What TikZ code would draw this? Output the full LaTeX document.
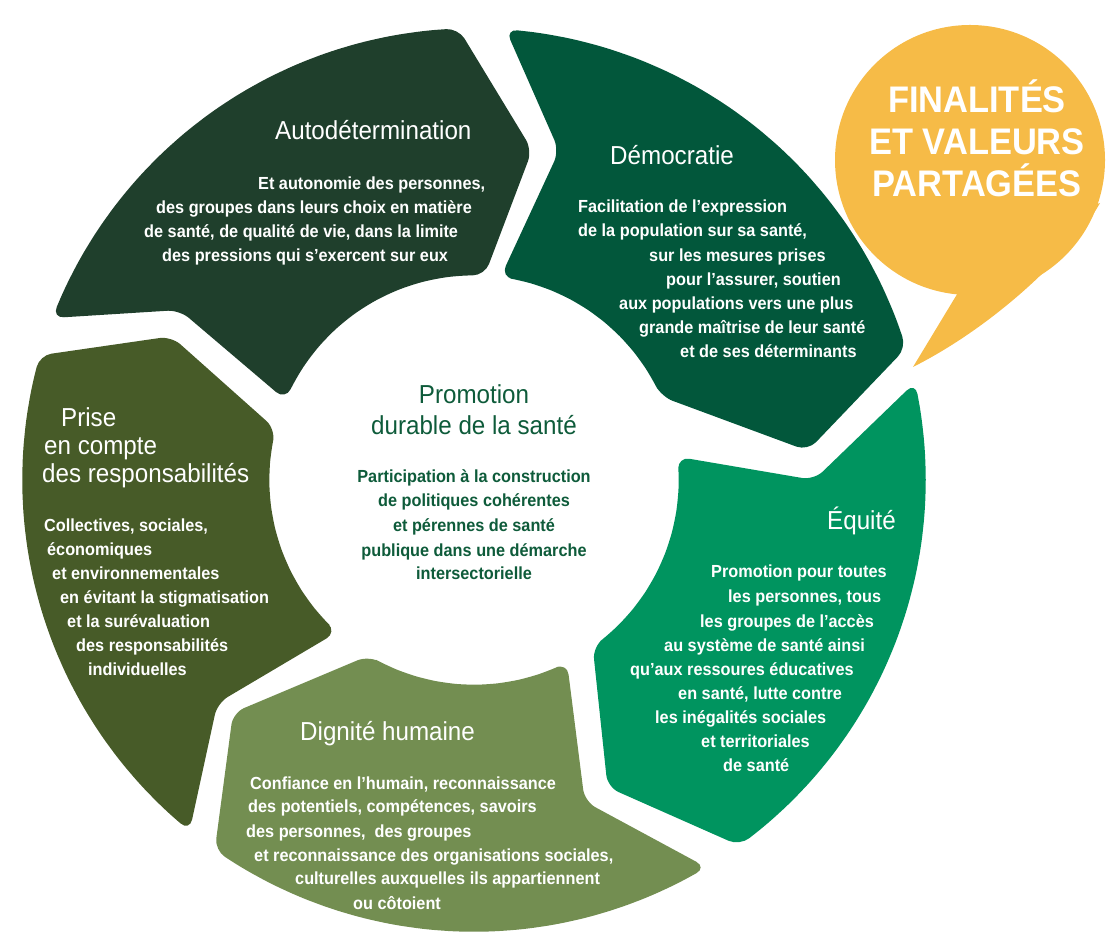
\documentclass[tikz,border=0pt]{standalone}
\usepackage{fontspec}
\setmainfont[FakeStretch=0.93]{Liberation Sans}
\usepackage{xcolor}
\usepackage{tikz}
\usetikzlibrary{positioning}

\definecolor{autogreen}{HTML}{1F3F2C}
\definecolor{demogreen}{HTML}{02573B}
\definecolor{equigreen}{HTML}{00945F}
\definecolor{dignigreen}{HTML}{738E51}
\definecolor{prisegreen}{HTML}{475B28}
\definecolor{bubbleorange}{HTML}{F6BB47}
\definecolor{centergreen}{HTML}{0E5B3A}

\begin{document}
\begin{tikzpicture}[
	x=1pt, y=1pt,
	segment/.style={rounded corners=12pt},
	titletext/.style={anchor=west, inner sep=0pt, text=white, font=\fontsize{26}{30}\selectfont, text height=19pt, text depth=5pt},
	bodytext/.style={anchor=west, inner sep=0pt, text=white, font=\fontsize{17.5}{24}\selectfont\bfseries, text height=12.5pt, text depth=3.5pt},
	centertitle/.style={titletext, anchor=center, text=centergreen},
	centerbody/.style={bodytext, anchor=center, text=centergreen},
	bubbletext/.style={align=center, inner sep=0pt, text=white, font=\fontsize{37}{42}\selectfont\bfseries},
	]
	\useasboundingbox (0,0) rectangle (1107,948);
	
	%Segments
	\foreach \col/\to/\ho/\tip/\ih/\it/\nt in {
		autogreen/159/92/80/87/157/150,
		demogreen/86/17/5/24/82.5/75.5,
		equigreen/12.5/-54/-66.5/-54.6/6.5/0,
		dignigreen/-59/-125/-136/-121/-63/-71,
		prisegreen/231/164/154.6/165.6/228/221}
		\fill[segment, \col, shift={(474,468)}] (\to:452pt)
			\foreach \k in {1,...,16} { -- ({\to+(\ho-\to)*\k/16}:452pt) }
			-- (\tip:335pt) -- (\ih:205pt)
			\foreach \k in {1,...,10} { -- ({\ih+(\it-\ih)*\k/10}:205pt) }
			-- (\nt:340pt) -- cycle;
	
	%Bubble
	\fill[bubbleorange] (970,788) circle[radius=135pt];
	\fill[bubbleorange] (913,581) -- (985,700) -- (1100,745) .. controls (1075,700) and (1000,625) .. (913,581) -- cycle;
	\node[bubbletext] (finalites) at (977,810) {FINALITÉS\\ET VALEURS\\PARTAGÉES};
	
	%Autodetermination
	\node[titletext] (autotitle) at (275,815) {Autodétermination};
	\foreach \x/\y/\t [count=\i] in {
		258/763/{Et autonomie des personnes,},
		156/739/{des groupes dans leurs choix en matière},
		144/715/{de santé, de qualité de vie, dans la limite},
		162/691/{des pressions qui s’exercent sur eux}}
		\node[bodytext] (auto\i) at (\x,\y) {\t};
	
	%Democratie
	\node[titletext] (demotitle) at (610,790) {Démocratie};
	\foreach \x/\y/\t [count=\i] in {
		578/740/{Facilitation de l’expression},
		578/716/{de la population sur sa santé,},
		649/691/{sur les mesures prises},
		666/667/{pour l’assurer, soutien},
		619/643/{aux populations vers une plus},
		639/619/{grande maîtrise de leur santé},
		680/595/{et de ses déterminants}}
		\node[bodytext] (demo\i) at (\x,\y) {\t};
	
	%Prise en compte
	\node[titletext] (prisetitle1) at (61,528) {Prise};
	\node[titletext] (prisetitle2) at (44,500) {en compte};
	\node[titletext] (prisetitle3) at (42,472) {des responsabilités};
	\foreach \x/\y/\t [count=\i] in {
		44/421/{Collectives, sociales,},
		47/397/{économiques},
		52/373/{et environnementales},
		60/349/{en évitant la stigmatisation},
		67/325/{et la surévaluation},
		76/301/{des responsabilités},
		88/277/{individuelles}}
		\node[bodytext] (prise\i) at (\x,\y) {\t};
	
	%Centre
	\node[centertitle] (centertitle1) at (474,551) {Promotion};
	\node[centertitle] (centertitle2) at (474,520) {durable de la santé};
	\foreach \y/\t [count=\i] in {
		470/{Participation à la construction},
		446/{de politiques cohérentes},
		421/{et pérennes de santé},
		396/{publique dans une démarche},
		373/{intersectorielle}}
		\node[centerbody] (centre\i) at (474,\y) {\t};
	
	%Equite
	\node[titletext] (equititle) at (827,425) {Équité};
	\foreach \x/\y/\t [count=\i] in {
		711/375/{Promotion pour toutes},
		728/350/{les personnes, tous},
		700/325/{les groupes de l’accès},
		664/301/{au système de santé ainsi},
		630/277/{qu’aux ressoures éducatives},
		678/253/{en santé, lutte contre},
		655/229/{les inégalités sociales},
		701/205/{et territoriales},
		723/181/{de santé}}
		\node[bodytext] (equi\i) at (\x,\y) {\t};
	
	%Dignite
	\node[titletext] (dignititle) at (300,215) {Dignité humaine};
	\foreach \x/\y/\t [count=\i] in {
		250/163/{Confiance en l’humain, reconnaissance},
		248/140/{des potentiels, compétences, savoirs},
		246/115/{des personnes,\ \ des groupes},
		254/91/{et reconnaissance des organisations sociales,},
		295/68/{culturelles auxquelles ils appartiennent},
		353/43/{ou côtoient}}
		\node[bodytext] (digni\i) at (\x,\y) {\t};
	
\end{tikzpicture}
\end{document}
